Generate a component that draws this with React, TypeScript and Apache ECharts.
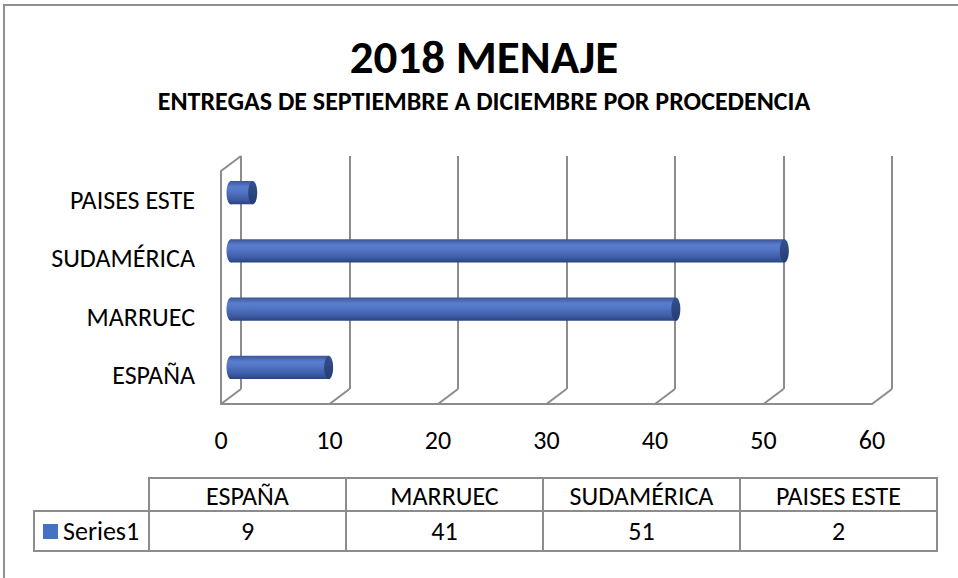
import React, { useEffect, useRef } from "react";
import * as echarts from "echarts";

const titleText = "2018 MENAJE";
const subtitleText = "ENTREGAS DE SEPTIEMBRE A DICIEMBRE POR PROCEDENCIA";
const categories = ["ESPAÑA", "MARRUEC", "SUDAMÉRICA", "PAISES ESTE"];
const seriesName = "Series1";
const values = [9, 41, 51, 2];
const xMin = 0;
const xMax = 60;
const xInterval = 10;
const xTicks = [0, 10, 20, 30, 40, 50, 60];

const FONT = "Carlito, Lato, sans-serif";
const BODY_SIZE = 26;
const GRID_COLOR = "#8c8c8c";
const DEPTH = [-20, 15];
const BACK = { left: 241, top: 156, width: 651, height: 233 };

export default function App() {
  const ref = useRef<HTMLDivElement>(null);
  useEffect(() => {
    if (!ref.current) return;
    const chart = echarts.init(ref.current, null, { renderer: "svg" });

    const bodyGrad = () =>
      new echarts.graphic.LinearGradient(0, 0, 0, 1, [
        { offset: 0, color: "#3a5699" },
        { offset: 0.25, color: "#5a7dcc" },
        { offset: 0.45, color: "#5275c6" },
        { offset: 0.8, color: "#3d5ba3" },
        { offset: 1, color: "#2b4380" },
      ]);

    // table
    const tableX = 149;
    const colW = 197;
    const headTop = 478;
    const headH = 33;
    const rowH = 40;
    const tableEls: any[] = [];
    categories.forEach((c, i) => {
      tableEls.push({
        type: "rect",
        shape: { x: tableX + colW * i, y: headTop, width: colW, height: headH },
        style: { fill: "none", stroke: GRID_COLOR, lineWidth: 2 },
      });
      tableEls.push({
        type: "rect",
        shape: { x: tableX + colW * i, y: headTop + headH, width: colW, height: rowH },
        style: { fill: "none", stroke: GRID_COLOR, lineWidth: 2 },
      });
      tableEls.push({
        type: "text",
        x: tableX + colW * i + colW / 2,
        y: headTop + headH / 2 + 1,
        style: { text: c, fill: "#000", font: `${BODY_SIZE}px ${FONT}`, align: "center", verticalAlign: "middle" },
      });
      tableEls.push({
        type: "text",
        x: tableX + colW * i + colW / 2,
        y: headTop + headH + rowH / 2,
        style: { text: String(values[i]), fill: "#000", font: `${BODY_SIZE}px ${FONT}`, align: "center", verticalAlign: "middle" },
      });
    });
    tableEls.push({
      type: "rect",
      shape: { x: 34, y: headTop + headH, width: tableX - 34, height: rowH },
      style: { fill: "none", stroke: GRID_COLOR, lineWidth: 2 },
    });
    tableEls.push({
      type: "rect",
      shape: { x: 43, y: 524, width: 15, height: 15 },
      style: { fill: "#4472c4" },
    });
    tableEls.push({
      type: "text",
      x: 63,
      y: headTop + headH + rowH / 2,
      style: { text: seriesName, fill: "#000", font: `${BODY_SIZE}px ${FONT}`, align: "left", verticalAlign: "middle" },
    });

    const option: any = {
      animation: false,
      backgroundColor: "#fff",
      title: [
        {
          text: titleText,
          left: 484,
          top: 33,
          padding: 0,
          textAlign: "center",
          textStyle: { fontSize: 47, fontWeight: "bold", color: "#000", fontFamily: FONT },
        },
        {
          text: subtitleText,
          left: 484,
          top: 88,
          padding: 0,
          textAlign: "center",
          textStyle: { fontSize: 26, fontWeight: "bold", color: "#000", fontFamily: FONT },
        },
      ],
      grid: [
        { left: BACK.left, top: BACK.top, width: BACK.width, height: BACK.height },
        {
          left: BACK.left + DEPTH[0],
          top: BACK.top + DEPTH[1],
          width: BACK.width,
          height: BACK.height,
        },
      ],
      xAxis: [
        {
          gridIndex: 0,
          type: "value",
          min: xMin,
          max: xMax,
          interval: xInterval,
          axisLabel: { show: false },
          axisLine: { show: false },
          axisTick: { show: false },
          splitLine: { show: true, lineStyle: { color: GRID_COLOR, width: 2 } },
        },
        {
          gridIndex: 1,
          type: "value",
          min: xMin,
          max: xMax,
          interval: xInterval,
          axisLabel: { show: true, color: "#000", fontSize: BODY_SIZE, fontFamily: FONT, margin: 23 },
          axisLine: { show: true, lineStyle: { color: GRID_COLOR, width: 2 } },
          axisTick: { show: false },
          splitLine: { show: false },
        },
      ],
      yAxis: [
        {
          gridIndex: 0,
          type: "category",
          data: categories,
          axisLabel: { show: false },
          axisLine: { show: false },
          axisTick: { show: false },
          splitLine: { show: false },
        },
        {
          gridIndex: 1,
          type: "category",
          data: categories,
          axisLabel: { show: true, color: "#000", fontSize: BODY_SIZE, fontFamily: FONT, margin: 26 },
          axisLine: { show: true, lineStyle: { color: GRID_COLOR, width: 2 } },
          axisTick: { show: false },
          splitLine: { show: false },
        },
      ],
      series: [
        {
          type: "custom",
          xAxisIndex: 0,
          yAxisIndex: 0,
          data: xTicks.map((t) => [t]),
          silent: true,
          renderItem: (params: any, api: any) => {
            const cs = params.coordSys;
            const v = api.value(0);
            const x = api.coord([v, 0])[0];
            const bottom = cs.y + cs.height;
            const children: any[] = [
              {
                type: "line",
                shape: { x1: x, y1: bottom, x2: x + DEPTH[0], y2: bottom + DEPTH[1] },
                style: { stroke: GRID_COLOR, lineWidth: 2 },
              },
            ];
            if (v === xMin) {
              children.push({
                type: "line",
                shape: { x1: x, y1: cs.y, x2: x + DEPTH[0], y2: cs.y + DEPTH[1] },
                style: { stroke: GRID_COLOR, lineWidth: 2 },
              });
            }
            return { type: "group", children };
          },
        },
        {
          type: "custom",
          name: seriesName,
          xAxisIndex: 0,
          yAxisIndex: 0,
          data: values.map((v, i) => [v, i]),
          silent: true,
          renderItem: (params: any, api: any) => {
            const v = api.value(0);
            const i = api.value(1);
            const start = api.coord([xMin, i]);
            const end = api.coord([v, i]);
            const band = api.size([0, 1])[1];
            const h = band * 0.4;
            const ox = DEPTH[0] / 2;
            const oy = DEPTH[1] / 2;
            const x0 = start[0] + ox;
            const x1 = end[0] + ox;
            const cy = start[1] + oy;
            const rx = 4.5;
            return {
              type: "group",
              children: [
                {
                  type: "ellipse",
                  shape: { cx: x0, cy, rx, ry: h / 2 },
                  style: { fill: bodyGrad() },
                },
                {
                  type: "rect",
                  shape: { x: x0, y: cy - h / 2, width: x1 - x0, height: h },
                  style: { fill: bodyGrad() },
                },
                {
                  type: "ellipse",
                  shape: { cx: x1, cy, rx, ry: h / 2 },
                  style: {
                    fill: new echarts.graphic.LinearGradient(0, 0, 0, 1, [
                      { offset: 0, color: "#34518f" },
                      { offset: 1, color: "#263c74" },
                    ]),
                  },
                },
              ],
            };
          },
        },
      ],
      graphic: [
        {
          type: "rect",
          shape: { x: 4, y: 5, width: 2000, height: 2000 },
          style: { fill: "none", stroke: "#909090", lineWidth: 2 },
          silent: true,
        },
        { type: "group", children: tableEls },
      ],
    };
    chart.setOption(option);
    return () => chart.dispose();
  }, []);
  return (
    <div
      ref={ref}
      style={{ position: "fixed", left: 0, top: 0, width: 958, height: 578 }}
    />
  );
}
